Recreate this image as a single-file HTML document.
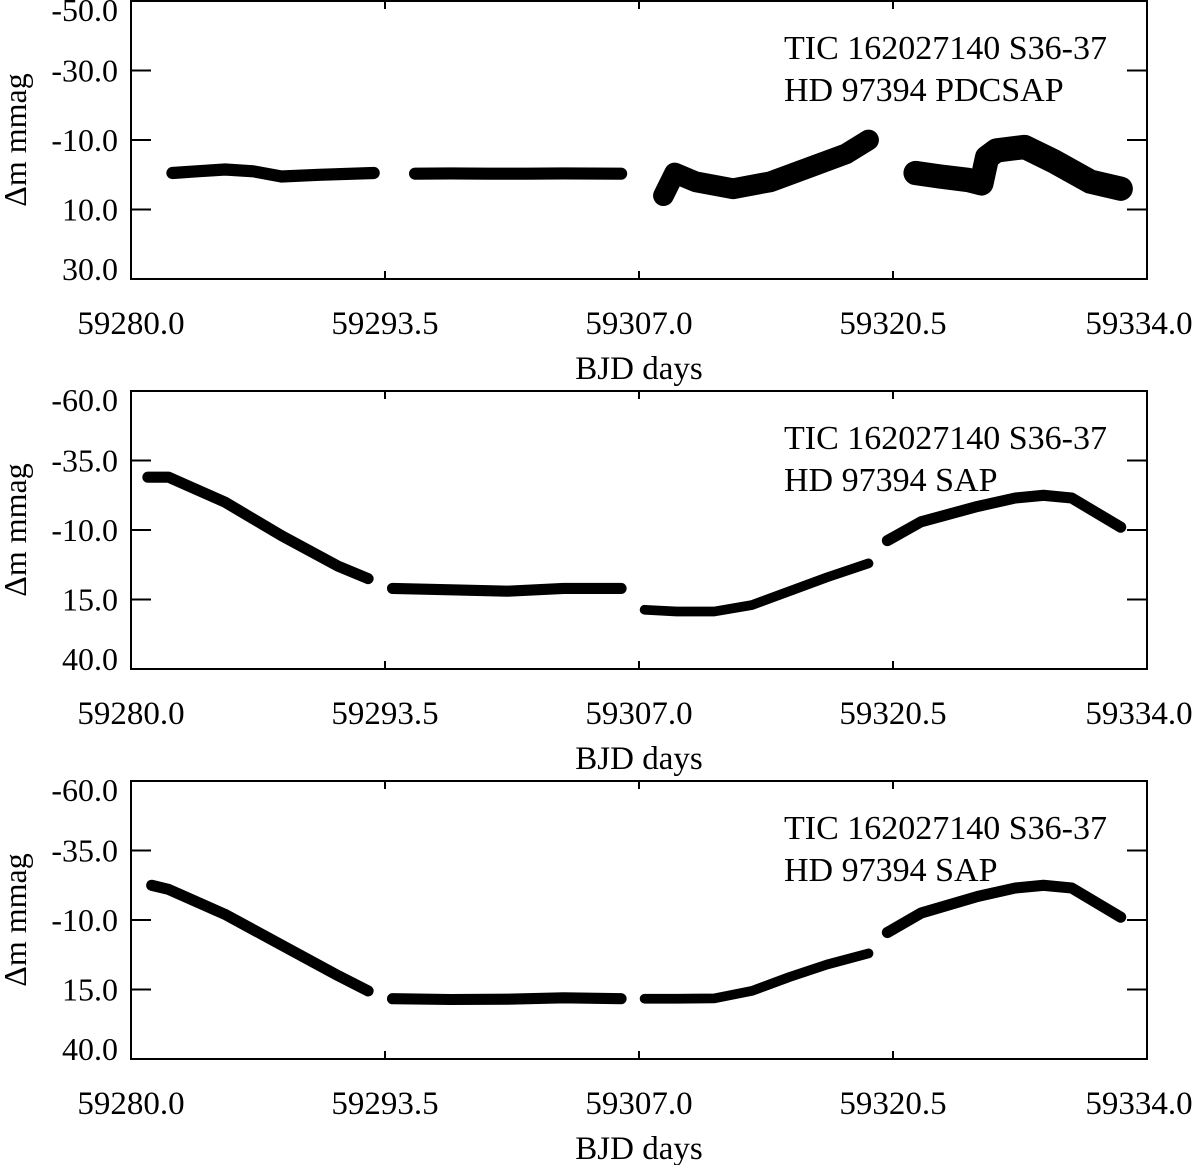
<!DOCTYPE html>
<html><head><meta charset="utf-8"><style>
body{margin:0;background:#fff}
svg{display:block;font-family:"Liberation Serif",serif}
</style></head><body>
<svg id="c" width="1200" height="1165" viewBox="0 0 1200 1165"></svg>
<script>
const xTicks=[59280.0,59293.5,59307.0,59320.5,59334.0];
const p1Ticks=[-50,-30,-10,10,30];
const p2Ticks=[-60,-35,-10,15,40];
const p1Title=["TIC 162027140 S36-37","HD 97394 PDCSAP"];
const p2Title=["TIC 162027140 S36-37","HD 97394 SAP"];
const p3Title=["TIC 162027140 S36-37","HD 97394 SAP"];
// segments: times and magnitudes (mmag), band widths (mmag)
const p1Times=[[59282.2,59283.5,59285,59286.5,59288,59290,59292.9],[59295.1,59297,59299,59301,59303,59306.05],[59308.3,59308.9,59310,59312,59314,59316,59318,59319.2],[59321.7,59323,59324.5,59325.2,59325.5,59326,59327.5,59329,59331,59332.6]];
const p1Mags=[[-0.5,-1,-1.5,-1,0.5,0,-0.5],[-0.3,-0.4,-0.3,-0.3,-0.4,-0.3],[6,-0.5,2,4,2,-2,-6,-10],[-0.5,0.5,1.5,2.5,-5,-7,-8,-4,2,4]];
const p1Width=[3.5,3.5,6,7];
const p2Times=[[59280.9,59282,59285,59288,59291,59292.6],[59293.9,59297,59300,59303,59306.05],[59307.3,59309,59311,59313,59315,59317,59319.2],[59320.2,59322,59325,59327,59328.5,59330,59332.6]];
const p2Mags=[[-29,-29,-20,-8,3,7.5],[11,11.5,12,11,11],[18.7,19.3,19.3,17,12,7,2],[-6.2,-13,-18.5,-21.5,-22.5,-21.5,-11]];
const p2Width=[4,4,3.5,4];
const p3Times=[[59281.1,59282,59285,59288,59291,59292.6],[59293.9,59297,59300,59303,59306.05],[59307.3,59309,59311,59313,59315,59317,59319.2],[59320.2,59322,59325,59327,59328.5,59330,59332.6]];
const p3Mags=[[-22.5,-21,-12,-1,10,15.5],[18.3,18.6,18.5,18,18.3],[18.3,18.3,18.2,15.5,10.5,6,2],[-5.5,-12.5,-18.5,-21.5,-22.5,-21.5,-11]];
const p3Width=[4,4,3.5,4];

const svg=document.getElementById('c');
const NS='http://www.w3.org/2000/svg';
function mk(tag,attrs,parent){const e=document.createElementNS(NS,tag);for(const k in attrs)e.setAttribute(k,attrs[k]);(parent||svg).appendChild(e);return e;}
const L=131,R=1147;
function xs(t){return L+(t-59280)/(59334-59280)*(R-L);}
function panel(idx,top,bot,ticks,times,mags,widths,title){
  const g=mk('g',{});
  
  
  const ymin=ticks[0],ymax=ticks[ticks.length-1];
  const ys=v=>top+(v-ymin)/(ymax-ymin)*(bot-top);
  const fr=mk('rect',{x:L,y:top,width:R-L,height:bot-top,fill:'none',stroke:'#000','stroke-width':2},g);
  
  
  ticks.forEach((v,i)=>{
    const y=ys(v);
    if(i>0&&i<ticks.length-1){mk('line',{x1:L,x2:L+20,y1:y,y2:y,stroke:'#000','stroke-width':2},g);mk('line',{x1:R-20,x2:R,y1:y,y2:y,stroke:'#000','stroke-width':2},g);}
    let ty=y+11; if(i==0)ty=y+20; if(i==ticks.length-1)ty=y+1;
    const t=mk('text',{x:118,y:ty,'text-anchor':'end','font-size':32},g);
    t.textContent=v.toFixed(1);
    
    
  });
  xTicks.forEach((v,i)=>{
    const x=xs(v);
    if(i>0&&i<xTicks.length-1){mk('line',{x1:x,x2:x,y1:top,y2:top+8,stroke:'#000','stroke-width':2},g);mk('line',{x1:x,x2:x,y1:bot-8,y2:bot,stroke:'#000','stroke-width':2},g);}
    let ax=x; if(i==xTicks.length-1)ax=x-8;
    const t=mk('text',{x:ax,y:bot+55,'text-anchor':'middle','font-size':33},g);
    t.textContent=v.toFixed(1);
    
    
  });
  const xt=mk('text',{x:639,y:bot+100,'text-anchor':'middle','font-size':33},g);
  xt.textContent='BJD days';
  
  
  const cy=(top+bot)/2;
  const yt=mk('text',{x:26,y:cy,'text-anchor':'middle','font-size':32,transform:`rotate(-90 26 ${cy})`},g);
  yt.textContent='Δm mmag';
  
  
  title.forEach((s,i)=>{
    const t=mk('text',{x:784,y:top+58+i*42,'font-size':34},g);
    t.textContent=s;
    
    
  });
  times.forEach((ts,si)=>{
    const pts=ts.map((t,j)=>xs(t).toFixed(1)+','+ys(mags[si][j]).toFixed(1)).join(' ');
    const w=Math.abs(ys(widths[si])-ys(0));
    const pl=mk('polyline',{points:pts,fill:'none',stroke:'#000','stroke-width':w,'stroke-linejoin':'round','stroke-linecap':'round'},g);
    
    
  });
}
panel(1,1,279,p1Ticks,p1Times,p1Mags,p1Width,p1Title);
panel(2,391,669,p2Ticks,p2Times,p2Mags,p2Width,p2Title);
panel(3,781,1059,p2Ticks,p3Times,p3Mags,p3Width,p3Title);
</script>
</body></html>
